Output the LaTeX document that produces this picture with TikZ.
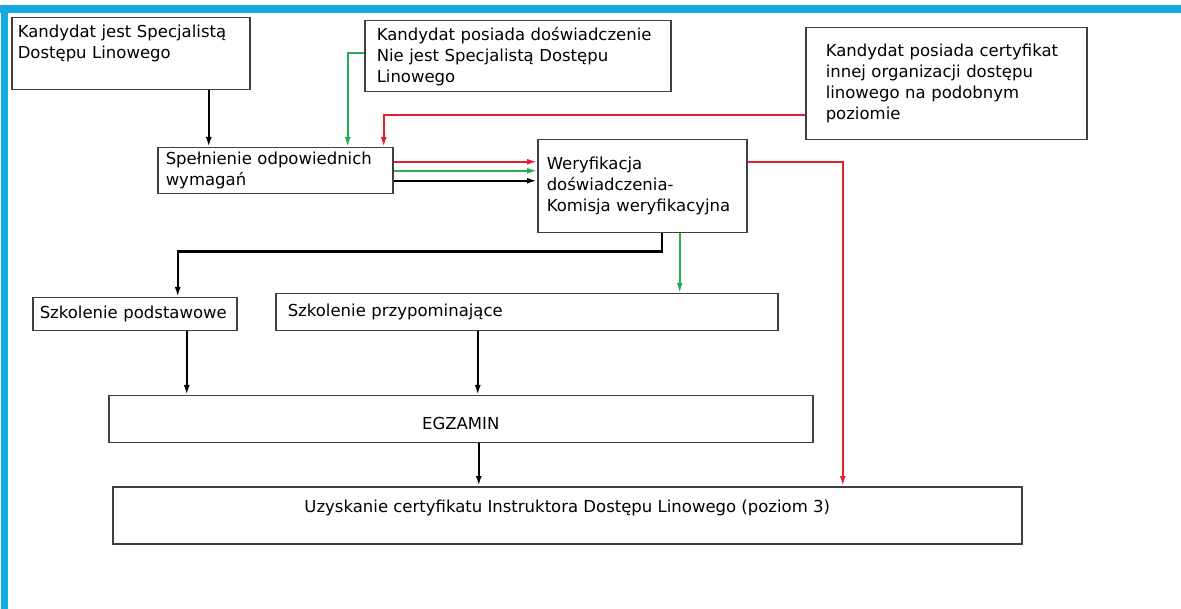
\documentclass[tikz,border=0pt]{standalone}
\usepackage{fontspec}
\setmainfont{DejaVu Sans}
\usetikzlibrary{positioning}
\usetikzlibrary{calc, arrows.meta}

\definecolor{frameblue}{RGB}{22,170,226}
\definecolor{pathred}{RGB}{222,34,48}
\definecolor{pathgreen}{RGB}{34,176,80}

\begin{document}
\begin{tikzpicture}
[
	x=1pt, y=-1pt,
	font=\fontsize{16.5}{21}\selectfont,
	stage/.style={draw=black!75, line width=1.5pt, rectangle, anchor=north west, align=left, inner ysep=4pt},
	flow/.style={-{Latex[length=10pt,width=6pt]}, line width=2.2pt},
	flowR/.style={flow, pathred, line width=1.8pt},
	flowG/.style={flow, pathgreen, line width=1.8pt}
  ]
	\useasboundingbox (0,0) rectangle (1181,609);
	% frame
	\fill[frameblue] (0,5) rectangle (1181,13);
	\fill[frameblue] (1,5) rectangle (8,609);

	\node[stage, minimum height=72pt, inner xsep=6pt, text width=226pt, text depth=45pt] (Spec) at (11,17) {Kandydat jest Specjalistą\\Dostępu Linowego};
	\node[stage, minimum height=71pt, inner xsep=12pt, text width=282pt] (Exp) at (364,20) {Kandydat posiada doświadczenie\\Nie jest Specjalistą Dostępu\\Linowego};
	\node[stage, minimum height=112pt, inner xsep=20pt, text width=241pt] (Cert) at (805,27) {Kandydat posiada certyfikat\\innej organizacji dostępu\\linowego na podobnym\\poziomie};

	\node[stage, minimum height=46pt, inner xsep=8pt, text width=219pt] (Req) at (157,147) {Spełnienie odpowiednich\\wymagań};
	\node[stage, minimum height=93pt, inner xsep=9pt, text width=191pt] (Verif) at (537,139) {Weryfikacja\\doświadczenia-\\Komisja weryfikacyjna};

	\node[stage, minimum height=33pt, inner xsep=7pt, text width=190pt] (Basic) at (32,297) {Szkolenie podstawowe};
	\node[stage, minimum height=37pt, inner xsep=12pt, text width=478pt] (Refresh) at (275,293) {Szkolenie przypominające};

	\node[stage, align=center, minimum width=704pt, minimum height=47pt, text height=20pt] (Exam) at (108,395) {EGZAMIN};
	\node[stage, align=center, minimum width=909pt, minimum height=57pt, text depth=18pt] (Final) at (112,486) {Uzyskanie certyfikatu Instruktora Dostępu Linowego (poziom 3)};

	\draw[flow] ([xshift=78pt]Spec.south) -- ([xshift=78pt]Spec.south |- Req.north);
	\draw[flowG] ([yshift=3.5pt]Exp.west) -| ([xshift=72.5pt]Req.north);
	\draw[flowR] ([yshift=-31pt]Cert.west) -| ([xshift=108.5pt]Req.north);

	\draw[flowR] ([yshift=9pt]Req.east) -- ([yshift=9pt]Req.east -| Verif.west);
	\draw[flowG] (Req.east) -- (Req.east -| Verif.west);
	\draw[flow] ([yshift=-10pt]Req.east) -- ([yshift=-10pt]Req.east -| Verif.west);

	\draw[flowR] ([yshift=24.5pt]Verif.east) -| ([xshift=275.5pt]Final.north);
	\draw[flowG] ([xshift=37.5pt]Verif.south) -- ([xshift=37.5pt]Verif.south |- Refresh.north);
	\draw[flow] ([xshift=19.5pt]Verif.south) -- ++(0,18) -| ([xshift=43pt]Basic.north);

	\draw[flow] ([xshift=52pt]Basic.south) -- ([xshift=52pt]Basic.south |- Exam.north);
	\draw[flow] ([xshift=-49pt]Refresh.south) -- ([xshift=-49pt]Refresh.south |- Exam.north);
	\draw[flow] ([xshift=18pt]Exam.south) -- ([xshift=18pt]Exam.south |- Final.north);
\end{tikzpicture}
\end{document}
